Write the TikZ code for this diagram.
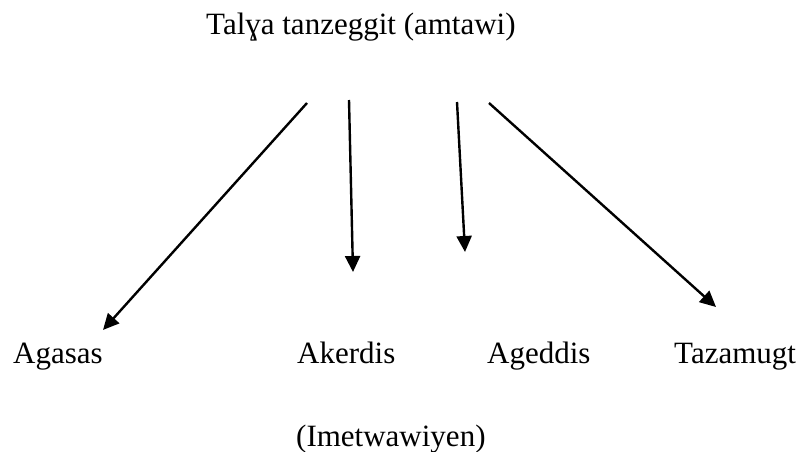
\documentclass[tikz,border=0pt]{standalone}
\usepackage{fontspec}
\setmainfont{Liberation Serif}
\usetikzlibrary{arrows.meta}
\begin{document}
\begin{tikzpicture}[x=1pt,y=-1pt,
  lbl/.style={anchor=base west,inner sep=0pt,font=\fontsize{31}{36}\selectfont},
  arr/.style={line width=2.4pt,-{Triangle[length=16pt,width=15pt]}}]
\useasboundingbox (0,0) rectangle (806,452);
\node[lbl] (title) at (206,35) {Talɣa tanzeggit (amtawi)};
\node[lbl] (agasas) at (13,363) {Agasas};
\node[lbl] (akerdis) at (297,363) {Akerdis};
\node[lbl] (ageddis) at (487,363) {Ageddis};
\node[lbl] (tazamugt) at (674,363) {Tazamugt};
\node[lbl] (imet) at (296,446) {(Imetwawiyen)};
\coordinate (s1) at (307,103);
\coordinate (s2) at (349,100);
\coordinate (s3) at (457,102);
\coordinate (s4) at (489,103);
\coordinate (e1) at (103,330);
\coordinate (e2) at (353,272);
\coordinate (e3) at (465,252);
\coordinate (e4) at (716,307);
\draw[arr] (s1) -- (e1);
\draw[arr] (s2) -- (e2);
\draw[arr] (s3) -- (e3);
\draw[arr] (s4) -- (e4);
\end{tikzpicture}
\end{document}
